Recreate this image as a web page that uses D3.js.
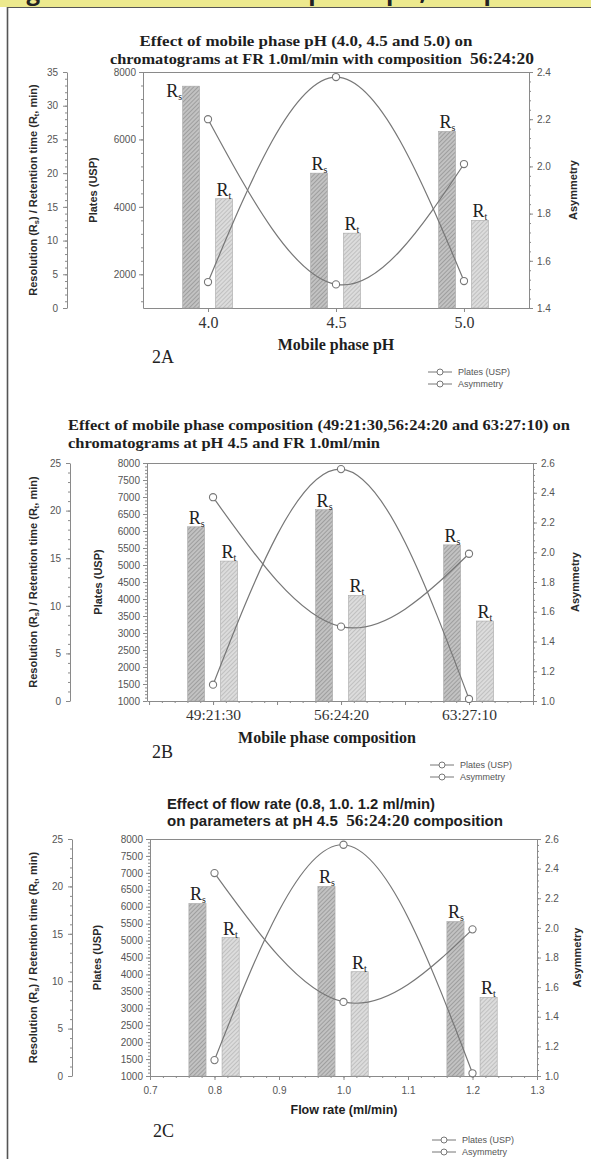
<!DOCTYPE html>
<html><head><meta charset="utf-8">
<script src="https://cdn.jsdelivr.net/npm/d3@7"></script>
<style>body{margin:0;background:#fff;} svg{display:block}</style>
</head><body>
<svg id="c" width="591" height="1159"></svg>
<script>
// ---------------- DATA ----------------
const phValues = [4.0, 4.5, 5.0];
const phRs = [32.9, 20.0, 26.2];
const phRt = [16.2, 11.1, 13.0];
const phPlates = [1770, 7850, 1800];
const phAsym = [2.20, 1.50, 2.01];

const compCategories = ["49:21:30", "56:24:20", "63:27:10"];
const compIndex = [0, 1, 2];
const compRs = [18.3, 20.1, 16.4];
const compRt = [14.7, 11.1, 8.4];
const compPlates = [1480, 7820, 1060];
const compAsym = [2.37, 1.50, 1.99];

const flowValues = [0.8, 1.0, 1.2];
const flowRs = [18.2, 20.0, 16.3];
const flowRt = [14.6, 11.0, 8.3];
const flowPlates = [1470, 7830, 1080];
const flowAsym = [2.37, 1.50, 1.99];

// tick labels
const phTicks = [4.0, 4.5, 5.0];
const flowTicks = [0.7, 0.8, 0.9, 1.0, 1.1, 1.2, 1.3];
const outerTicksA = [0, 5, 10, 15, 20, 25, 30, 35];
const outerTicksBC = [0, 5, 10, 15, 20, 25];
const plateTicksA = [2000, 4000, 6000, 8000];
const plateTicksBC = [1000, 1500, 2000, 2500, 3000, 3500, 4000, 4500, 5000, 5500, 6000, 6500, 7000, 7500, 8000];
const asymTicksA = [1.4, 1.6, 1.8, 2.0, 2.2, 2.4];
const asymTicksBC = [1.0, 1.2, 1.4, 1.6, 1.8, 2.0, 2.2, 2.4, 2.6];
const legendLabels = ["Plates (USP)", "Asymmetry"];

// ---------------- DRAW ----------------
const SERIF = "'Liberation Serif','Times New Roman',serif";
const SANS = "'Liberation Sans',Arial,sans-serif";
const AX = "#8a8a8a";
const LINE = "#777777";
const svg = d3.select("#c");
const defs = svg.append("defs");

function hatch(id, bg, fg) {
  const p = defs.append("pattern").attr("id", id).attr("patternUnits", "userSpaceOnUse")
    .attr("width", 3).attr("height", 3).attr("patternTransform", "rotate(45)");
  p.append("rect").attr("width", 3).attr("height", 3).attr("fill", bg);
  p.append("line").attr("x1", 0.5).attr("y1", 0).attr("x2", 0.5).attr("y2", 3)
    .attr("stroke", fg).attr("stroke-width", 1);
}
hatch("hs", "#c2c2c2", "#9e9e9e");
hatch("ht", "#dcdcdc", "#c0c0c0");

// header strip
defs.append("clipPath").attr("id", "hclip").append("rect").attr("x", 0).attr("y", 0).attr("width", 591).attr("height", 7);
svg.append("rect").attr("x", 0).attr("y", 0).attr("width", 591).attr("height", 7).attr("fill", "#ece98e");
svg.append("text").attr("clip-path", "url(#hclip)").attr("x", 6).attr("y", 0)
  .attr("font-family", "'Open Sans',sans-serif").attr("font-weight", "bold").attr("font-size", 24)
  .attr("fill", "#222").text("Figure 2: Effect of mobile phase pH, composition and flow rate");
svg.append("line").attr("x1", 7).attr("x2", 591).attr("y1", 7.5).attr("y2", 7.5).attr("stroke", "#555").attr("stroke-width", 1.2);
svg.append("line").attr("x1", 7.5).attr("x2", 7.5).attr("y1", 7).attr("y2", 1159).attr("stroke", "#555").attr("stroke-width", 1.6);

function steps(lo, hi, step) {
  const n = Math.round((hi - lo) / step);
  return d3.range(n + 1).map(i => +(lo + i * step).toFixed(6));
}

function styleAxis(sel, font, size, fill, weight) {
  sel.attr("font-family", font).attr("font-size", size);
  sel.select(".domain").attr("stroke", AX);
  sel.selectAll(".tick line").attr("stroke", AX);
  sel.selectAll(".tick text").attr("fill", fill).attr("font-weight", weight || "normal");
}
function minorAxis(g, axis, transform) {
  const m = g.append("g").attr("transform", transform).call(axis.tickSize(2).tickSizeOuter(0).tickFormat(""));
  m.select(".domain").remove();
  m.selectAll(".tick line").attr("stroke", AX);
}

function panel(c) {
  const g = svg.append("g");
  const x = d3.scaleLinear().domain(c.xDomain).range([c.left, c.right]);
  const yO = d3.scaleLinear().domain([0, c.outerTicks[c.outerTicks.length - 1]]).range([c.bottom, c.top]);
  const yP = d3.scaleLinear().domain([1000, 8000]).range([c.bottom, c.top]);
  const yA = d3.scaleLinear().domain([c.asymTicks[0], c.asymTicks[c.asymTicks.length - 1]]).range([c.bottom, c.top]);

  // titles
  c.titles.forEach(t => {
    const tx = g.append("text").attr("x", t.x).attr("y", t.y).attr("text-anchor", t.anchor)
      .attr("font-family", t.font).attr("font-weight", "bold").attr("font-size", t.size).attr("fill", "#1e1e1e")
      .attr("textLength", t.w).attr("lengthAdjust", "spacingAndGlyphs");
    t.parts.forEach(p => {
      const s = tx.append("tspan").text(p.text);
      if (p.font) s.attr("font-family", p.font);
      if (p.size) s.attr("font-size", p.size);
    });
  });

  // frame top
  g.append("line").attr("x1", c.left).attr("x2", c.right).attr("y1", c.top + 0.5).attr("y2", c.top + 0.5).attr("stroke", AX);

  // outer left axis
  const oTop = c.outerTicks[c.outerTicks.length - 1];
  minorAxis(g, d3.axisLeft(yO).tickValues(steps(0, oTop, 1)), `translate(${c.outerX},0)`);
  const ao = g.append("g").attr("transform", `translate(${c.outerX},0)`)
    .call(d3.axisLeft(yO).tickValues(c.outerTicks).tickSize(4).tickSizeOuter(0).tickPadding(5).tickFormat(d3.format("d")));
  styleAxis(ao, SANS, 10, "#555");

  // plates axis
  minorAxis(g, d3.axisLeft(yP).tickValues(steps(c.plateMinorStart, 8000, c.plateMinor)), `translate(${c.left},0)`);
  const ap = g.append("g").attr("transform", `translate(${c.left},0)`)
    .call(d3.axisLeft(yP).tickValues(c.plateTicks).tickSize(4).tickSizeOuter(0).tickPadding(3).tickFormat(d3.format("d")));
  styleAxis(ap, SANS, 10, "#555");

  // asymmetry axis
  const a0 = c.asymTicks[0], a1 = c.asymTicks[c.asymTicks.length - 1];
  minorAxis(g, d3.axisRight(yA).tickValues(steps(a0, a1, 0.04)), `translate(${c.right},0)`);
  const aa = g.append("g").attr("transform", `translate(${c.right},0)`)
    .call(d3.axisRight(yA).tickValues(c.asymTicks).tickSize(4).tickSizeOuter(0).tickPadding(4).tickFormat(d3.format(".1f")));
  styleAxis(aa, SANS, 10, "#555");

  // bottom axis
  if (c.xMinor) minorAxis(g, d3.axisBottom(x).tickValues(c.xMinor), `translate(0,${c.bottom})`);
  if (c.xMid) {
    const mm = g.append("g").attr("transform", `translate(0,${c.bottom})`).call(d3.axisBottom(x).tickValues(c.xMid).tickSize(4).tickSizeOuter(0).tickFormat(""));
    mm.select(".domain").remove(); mm.selectAll(".tick line").attr("stroke", AX);
  }
  const ax = g.append("g").attr("transform", `translate(0,${c.bottom})`)
    .call(d3.axisBottom(x).tickValues(c.xTicks).tickSize(4).tickSizeOuter(0).tickPadding(c.xPad).tickFormat(c.xFormat));
  styleAxis(ax, c.xFont, c.xSize, c.xFill);

  // bars
  const bw = 0.133 * c.spacing;
  const series = [
    { vals: c.rs, off: -0.132 * c.spacing, fill: "url(#hs)", sub: "s" },
    { vals: c.rt, off: 0.125 * c.spacing, fill: "url(#ht)", sub: "t" }
  ];
  series.forEach(s => {
    s.vals.forEach((v, i) => {
      const cx = c.xs[i] + s.off;
      const x0 = x(cx - bw / 2), x1 = x(cx + bw / 2);
      const yt = yO(v);
      g.append("rect").attr("x", x0).attr("y", yt).attr("width", x1 - x0).attr("height", c.bottom - yt)
        .attr("fill", s.fill).attr("stroke", "#a8a8a8").attr("stroke-width", 0.6);
      const above = yt - 16 > c.top;
      const lab = g.append("text").attr("font-family", SERIF).attr("font-size", 18).attr("fill", "#222")
        .attr("x", above ? x0 + 1 : x0 - 0.5).attr("y", above ? yt - 3 : yt + 11)
        .attr("text-anchor", above ? "start" : "end");
      lab.append("tspan").text("R");
      lab.append("tspan").attr("font-size", 10).attr("dy", 3).text(s.sub);
    });
  });

  // lines
  const lineP = d3.line().x((d, i) => x(c.xs[i])).y(d => yP(d)).curve(d3.curveNatural);
  const lineA = d3.line().x((d, i) => x(c.xs[i])).y(d => yA(d)).curve(d3.curveNatural);
  g.append("path").attr("d", lineP(c.plates)).attr("fill", "none").attr("stroke", LINE).attr("stroke-width", 1.2);
  g.append("path").attr("d", lineA(c.asym)).attr("fill", "none").attr("stroke", LINE).attr("stroke-width", 1.2);
  c.plates.forEach((v, i) => g.append("circle").attr("cx", x(c.xs[i])).attr("cy", yP(v)).attr("r", 3.6)
    .attr("fill", "#fff").attr("stroke", LINE).attr("stroke-width", 1.1));
  c.asym.forEach((v, i) => g.append("circle").attr("cx", x(c.xs[i])).attr("cy", yA(v)).attr("r", 3.6)
    .attr("fill", "#fff").attr("stroke", LINE).attr("stroke-width", 1.1));

  // y labels
  const cy = (c.top + c.bottom) / 2;
  const yl = g.append("text").attr("transform", `translate(${c.outerLabX},${cy}) rotate(-90)`)
    .attr("text-anchor", "middle").attr("dy", "0.35em").attr("font-family", SANS).attr("font-weight", "bold")
    .attr("font-size", 11).attr("fill", "#2a2a2a");
  yl.append("tspan").text("Resolution (R");
  yl.append("tspan").attr("font-size", 7.5).attr("dy", 2).text("s");
  yl.append("tspan").attr("dy", -2).text(") / Retention time (R");
  yl.append("tspan").attr("font-size", 7.5).attr("dy", 2).text("t");
  yl.append("tspan").attr("dy", -2).text(", min)");
  g.append("text").attr("transform", `translate(${c.plateLabX},${cy}) rotate(-90)`)
    .attr("text-anchor", "middle").attr("dy", "0.35em").attr("font-family", SANS).attr("font-weight", "bold")
    .attr("font-size", 11).attr("fill", "#2a2a2a").text("Plates (USP)");
  g.append("text").attr("transform", `translate(${c.asymLabX},${cy}) rotate(-90)`)
    .attr("text-anchor", "middle").attr("dy", "0.35em").attr("font-family", SANS).attr("font-weight", "bold")
    .attr("font-size", 11).attr("fill", "#2a2a2a").text("Asymmetry");

  // x title
  g.append("text").attr("x", c.xTitle.x).attr("y", c.xTitle.y).attr("text-anchor", "middle")
    .attr("font-family", c.xTitle.font).attr("font-weight", "bold").attr("font-size", c.xTitle.size)
    .attr("fill", "#1e1e1e").text(c.xTitle.text);
  // panel label
  g.append("text").attr("x", c.tag.x).attr("y", c.tag.y).attr("font-family", SERIF).attr("font-size", 18)
    .attr("fill", "#222").text(c.tag.text);

  // legend
  legendLabels.forEach((t, i) => {
    const ly = c.legend.y + i * 12;
    g.append("line").attr("x1", c.legend.x).attr("x2", c.legend.x + 24).attr("y1", ly).attr("y2", ly).attr("stroke", LINE).attr("stroke-width", 1);
    g.append("circle").attr("cx", c.legend.x + 12).attr("cy", ly).attr("r", 3).attr("fill", "#fff").attr("stroke", LINE);
    g.append("text").attr("x", c.legend.x + 30).attr("y", ly).attr("dy", "0.35em").attr("font-family", SANS)
      .attr("font-size", 9).attr("fill", "#555").text(t);
  });
}

panel({
  left: 143, right: 529, top: 72, bottom: 308, outerX: 67,
  xDomain: [3.746, 5.254], xs: phValues, spacing: 0.5,
  xTicks: phTicks, xFormat: d3.format(".1f"), xFont: SERIF, xSize: 16, xFill: "#333", xPad: 5,
  rs: phRs, rt: phRt, plates: phPlates, asym: phAsym,
  outerTicks: outerTicksA, plateTicks: plateTicksA, plateMinor: 400, plateMinorStart: 1200, asymTicks: asymTicksA,
  outerLabX: 33, plateLabX: 93, asymLabX: 573,
  titles: [
    { x: 306, y: 46, anchor: "middle", font: SERIF, size: 15, w: 333, parts: [{ text: "Effect of mobile phase pH (4.0, 4.5 and 5.0) on" }] },
    { x: 322, y: 64, anchor: "middle", font: SERIF, size: 15, w: 424, parts: [{ text: "chromatograms at FR 1.0ml/min with composition\u00a0\u00a0" }, { text: "56:24:20", size: 16 }] }
  ],
  xTitle: { x: 336, y: 350, font: SERIF, size: 16, text: "Mobile phase pH" },
  tag: { x: 152, y: 363, text: "2A" },
  legend: { x: 428, y: 372 }
});

panel({
  left: 147, right: 533, top: 463, bottom: 701, outerX: 70,
  xDomain: [-0.516, 2.5], xs: compIndex, spacing: 1,
  xTicks: compIndex, xFormat: i => compCategories[i], xFont: SERIF, xSize: 15.5, xFill: "#333", xPad: 4,
  xMinor: steps(-0.5, 2.5, 0.1), xMid: steps(-0.5, 2.5, 0.5),
  rs: compRs, rt: compRt, plates: compPlates, asym: compAsym,
  outerTicks: outerTicksBC, plateTicks: plateTicksBC, plateMinor: 100, plateMinorStart: 1000, asymTicks: asymTicksBC,
  outerLabX: 33, plateLabX: 98, asymLabX: 575,
  titles: [
    { x: 68, y: 430, anchor: "start", font: SERIF, size: 15.5, w: 502, parts: [{ text: "Effect of mobile phase composition (49:21:30,56:24:20 and 63:27:10) on" }] },
    { x: 68, y: 448, anchor: "start", font: SERIF, size: 15.5, w: 312, parts: [{ text: "chromatograms at pH 4.5 and FR 1.0ml/min" }] }
  ],
  xTitle: { x: 327, y: 743, font: SERIF, size: 16, text: "Mobile phase composition" },
  tag: { x: 152, y: 758, text: "2B" },
  legend: { x: 430, y: 765 }
});

panel({
  left: 150, right: 537, top: 839, bottom: 1076, outerX: 72,
  xDomain: [0.7, 1.3], xs: flowValues, spacing: 0.2,
  xTicks: flowTicks, xFormat: d3.format(".1f"), xFont: SANS, xSize: 10, xFill: "#555", xPad: 7,
  xMinor: steps(0.7, 1.3, 0.02),
  rs: flowRs, rt: flowRt, plates: flowPlates, asym: flowAsym,
  outerTicks: outerTicksBC, plateTicks: plateTicksBC, plateMinor: 100, plateMinorStart: 1000, asymTicks: asymTicksBC,
  outerLabX: 33, plateLabX: 97, asymLabX: 577,
  titles: [
    { x: 167, y: 809, anchor: "start", font: SANS, size: 14, w: 268, parts: [{ text: "Effect of flow rate (0.8, 1.0. 1.2 ml/min)" }] },
    { x: 167, y: 826, anchor: "start", font: SANS, size: 14, w: 336, parts: [{ text: "on parameters at pH 4.5\u00a0\u00a0" }, { text: "56:24:20", font: SERIF, size: 16 }, { text: "\u00a0composition" }] }
  ],
  xTitle: { x: 344, y: 1114, font: SANS, size: 12.5, text: "Flow rate (ml/min)" },
  tag: { x: 153, y: 1137, text: "2C" },
  legend: { x: 432, y: 1140 }
});
</script>
</body></html>
